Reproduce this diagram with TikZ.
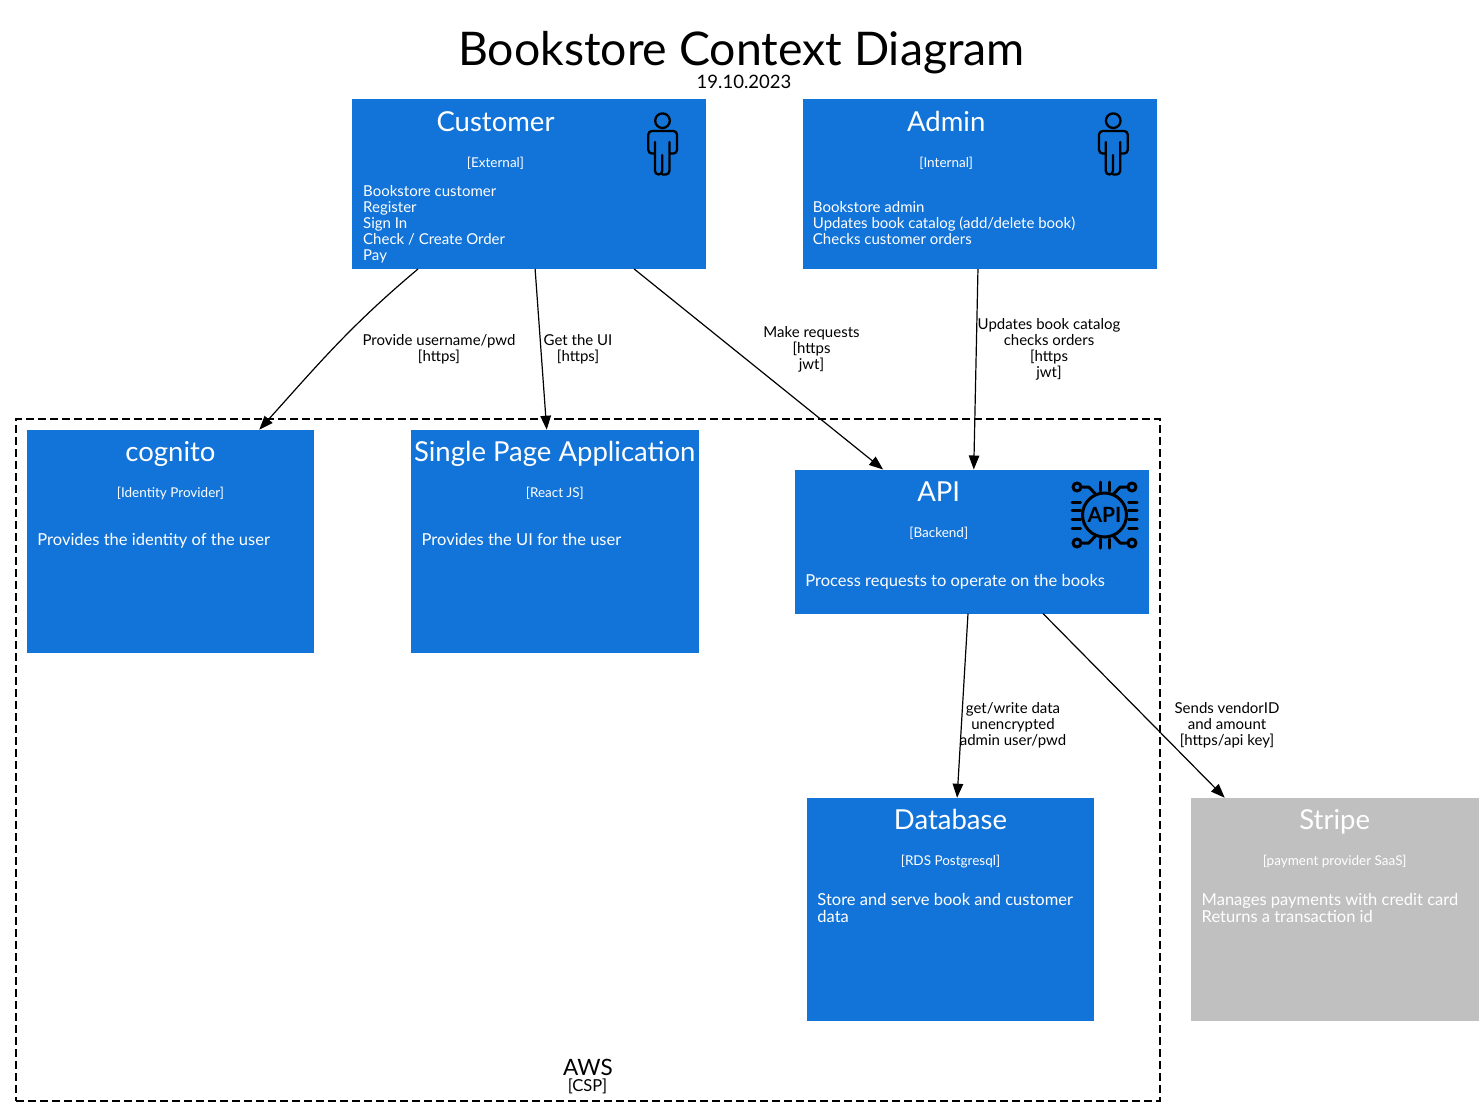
\documentclass[tikz,border=0pt]{standalone}
\usepackage{fontspec}
\setmainfont{Lato}
\usepackage{xcolor}
\usetikzlibrary{arrows.meta, positioning}
\definecolor{boxblue}{HTML}{1274D8}
\definecolor{boxgray}{HTML}{C0C0C0}
\tikzset{
  ctxbox/.style={rectangle, fill=#1, draw=none, outer sep=0pt, inner sep=0pt},
  ctxbox/.default=boxblue,
  wide/.style={minimum width=354pt},
  narrow/.style={minimum width=287.5pt, minimum height=223.5pt},
  ttl/.style={text=white, font=\fontsize{27.5}{30}\selectfont, inner sep=0pt, anchor=base},
  tag/.style={text=white, font=\fontsize{13.5}{15}\selectfont, inner sep=0pt},
  descr/.style={text=white, font=\fontsize{15}{16}\selectfont, inner sep=0pt,
                align=left, anchor=north west},
  descrl/.style={descr, font=\fontsize{16.5}{17}\selectfont},
  arr/.style={-{Triangle[length=14pt, width=10.5pt]}, line width=1.2pt, black},
  edgelbl/.style={font=\fontsize{15}{16}\selectfont, inner sep=0pt, align=center},
  icon/.style={line width=2.3pt, black, line cap=round, line join=round, rounded corners=3.6pt},
}

\begin{document}
\begin{tikzpicture}[x=1pt, y=-1pt]
  \useasboundingbox (0,0) rectangle (1484,1117);
  %% title
  \node[font=\fontsize{46.4}{50}\selectfont, inner sep=0pt] (title) at (741.5,53) {Bookstore Context Diagram};
  \node[font=\fontsize{18.5}{20}\selectfont, inner sep=0pt] (date) at (744,82) {19.10.2023};
  %% AWS boundary
  \node[rectangle, draw=black, dash pattern=on 8pt off 4pt, line width=1.2pt, minimum width=1144pt, minimum height=682pt,
    outer sep=0pt] (aws) at (588,760) {};
  \node[font=\fontsize{22.5}{24}\selectfont, inner sep=0pt] (awsname) at (588,1067) {AWS};
  \node[font=\fontsize{16.5}{18}\selectfont, inner sep=0pt] (awstag) at (587.5,1086.5) {[CSP]};
  %% people
  \node[ctxbox, wide, minimum height=170pt] (customer) at (529,184) {};
  \node[ctxbox, wide, minimum height=170pt, right=96.75pt of customer] (admin) {};
  \node[ttl] (customer-t) at ([shift={(-33.5,32)}]customer.north) {Customer};
  \node[tag] (customer-g) at ([shift={(-33.5,64.5)}]customer.north) {[External]};
  \node[descr] (customer-d) at ([shift={(11,86.5)}]customer.north west)
    {Bookstore customer\\Register\\Sign In\\Check / Create Order\\Pay};
  \node[ttl] (admin-t) at ([shift={(-33.5,32)}]admin.north) {Admin};
  \node[tag] (admin-g) at ([shift={(-33.5,64.5)}]admin.north) {[Internal]};
  \node[descr] (admin-d) at ([shift={(10,102.5)}]admin.north west)
    {Bookstore admin\\Updates book catalog (add/delete book)\\Checks customer orders};
  %% person icons
  \foreach \n in {customer,admin}
    \draw[icon, shift={(\n.north west)}]
      (310.5,21.7) circle[radius=7.3]
      (303,54.5) -- (296.3,54.5) -- (296.3,32) -- (325,32) -- (325,54.5) -- (318,54.5)
      (303,43) -- (303,75.5) -- (310.2,75.5) -- (310.2,56)
      (310.2,75.5) -- (317.4,75.5) -- (317.4,43);
  %% AWS services
  \node[ctxbox, narrow] (cognito) at (170.5,541.5) {};
  \node[ctxbox, narrow, right=96.75pt of cognito] (spa) {};
  \node[ctxbox, wide, minimum height=144pt, right=96.75pt of spa] (api) {};
  \node[ctxbox, narrow] (db) at (950.5,909.5) {};
  \node[ctxbox=boxgray, narrow, right=96.75pt of db] (stripe) {};
  \node[ttl] (cognito-t) at ([yshift=-31.5pt]cognito.north) {cognito};
  \node[tag] (cognito-g) at ([yshift=-64pt]cognito.north) {[Identity Provider]};
  \node[descrl] (cognito-d) at ([shift={(10.5,103)}]cognito.north west) {Provides the identity of the user};
  \node[ttl] (spa-t) at ([yshift=-31.5pt]spa.north) {Single Page Application};
  \node[tag] (spa-g) at ([yshift=-64pt]spa.north) {[React JS]};
  \node[descrl] (spa-d) at ([shift={(10.5,103)}]spa.north west) {Provides the UI for the user};
  \node[ttl] (api-t) at ([shift={(-33.5,31.5)}]api.north) {API};
  \node[tag] (api-g) at ([shift={(-33.5,64)}]api.north) {[Backend]};
  \node[descrl] (api-d) at ([shift={(10,104.5)}]api.north west) {Process requests to operate on the books};
  \node[ttl] (db-t) at ([yshift=-31.5pt]db.north) {Database};
  \node[tag] (db-g) at ([yshift=-64pt]db.north) {[RDS Postgresql]};
  \node[descrl] (db-d) at ([shift={(10.5,95)}]db.north west) {Store and serve book and customer\\data};
  \node[ttl] (stripe-t) at ([yshift=-31.5pt]stripe.north) {Stripe};
  \node[tag] (stripe-g) at ([yshift=-64pt]stripe.north) {[payment provider SaaS]};
  \node[descrl] (stripe-d) at ([shift={(10.5,95)}]stripe.north west) {Manages payments with credit card\\Returns a transaction id};
  %% API icon
  \begin{scope}[shift={(1104.5,515)}, line width=3pt, black, line cap=round, line join=round]
    \draw (0,0) circle[radius=22];
    \foreach \s in {-1,1} {
      \foreach \d in {-13,-4.5,4.5,13} {
        \draw (\s*24,\d) -- (\s*32.5,\d);
      }
      \foreach \d in {-4.5,4.5} {
        \draw (\d,\s*24) -- (\d,\s*33);
      }
      \foreach \t in {-1,1} {
        \draw (\s*22,\t*28) -- (\s*15.7,\t*28) -- (\s*9,\t*21);
        \draw (\s*27.5,\t*28) circle[radius=4];
      }
    }
    \node[font=\fontsize{21}{22}\selectfont\bfseries, inner sep=0pt] (apilogo) at (0,0) {API};
  \end{scope}
  %% connectors
  \draw[arr] ([xshift=66pt]customer.south west) to[out=220, in=48] ([xshift=-55pt]cognito.north east);
  \foreach \a/\b in {customer/spa,customer/api,admin/api,api/db,api/stripe}
    \draw[arr] (\a) -- (\b);
  %% connector labels
  \node[edgelbl] (lbl-cognito) at (439,349.5) {Provide username/pwd\\{[https]}};
  \node[edgelbl] (lbl-spa) at (578,349.5) {Get the UI\\{[https]}};
  \node[edgelbl] (lbl-api) at (811.5,349.5) {Make requests\\{[https}\\jwt]};
  \node[edgelbl] (lbl-admin) at (1049,349.5) {Updates book catalog\\checks orders\\{[https}\\jwt]};
  \node[edgelbl] (lbl-db) at (1013,725.5) {get/write data\\unencrypted\\admin user/pwd};
  \node[edgelbl] (lbl-stripe) at (1227,725.5) {Sends vendorID\\and amount\\{[https/api key]}};
\end{tikzpicture}
\end{document}
